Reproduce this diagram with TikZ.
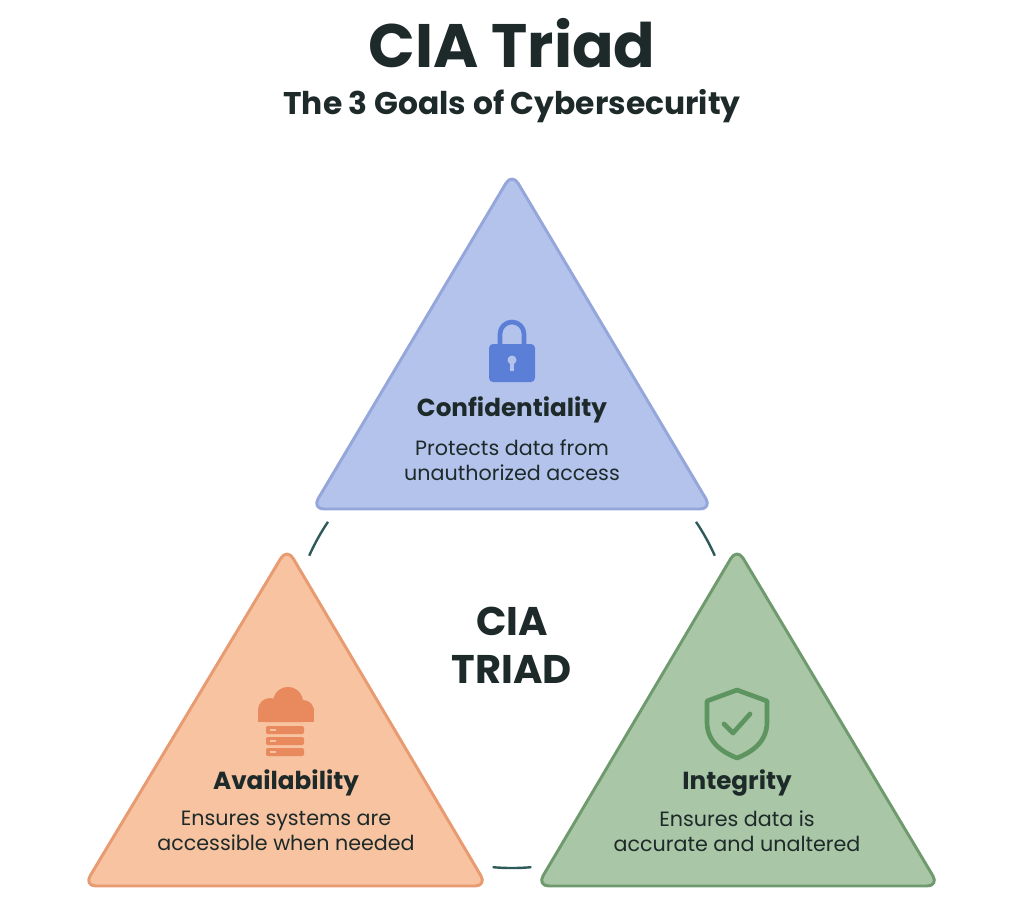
\documentclass[tikz,border=0pt]{standalone}
\usepackage{fontspec}
\setmainfont{Poppins}
\newfontfamily\bodyf{Poppins}
\definecolor{cfill}{HTML}{B4C3EC}\definecolor{cline}{HTML}{94A6DA}
\definecolor{afill}{HTML}{F7C3A0}\definecolor{aline}{HTML}{E89A70}
\definecolor{ifill}{HTML}{A9C6A6}\definecolor{iline}{HTML}{6F9A6E}
\definecolor{lockc}{HTML}{5B7FD6}\definecolor{cloudc}{HTML}{E8895E}\definecolor{shieldc}{HTML}{5E9460}
\definecolor{arcc}{HTML}{2F5A5A}\definecolor{txt}{HTML}{1E2A2A}
\tikzset{tri/.style={line width=2.2pt,rounded corners=9pt,line join=round},
 head/.style={font=\fontsize{18.5}{22}\selectfont\bfseries,text=txt},
 desc/.style={font=\bodyf\fontsize{15.5}{19}\selectfont,text=txt,align=center},
 arcl/.style={arcc,line width=1.8pt}}
\begin{document}
\begin{tikzpicture}[x=0.75pt,y=-0.75pt]
\fill[white] (0,0) rectangle (1024,908);
\useasboundingbox (0,0) rectangle (1024,908);
\node[font=\fontsize{46}{50}\selectfont\bfseries,text=txt] (title) at (512,43) {CIA Triad};
\node[font=\fontsize{23.5}{27}\selectfont\bfseries,text=txt] (sub) at (512,106) {The 3 Goals of Cybersecurity};
% triangles
\draw[tri,fill=cfill,draw=cline] (512,173) -- (712,509) -- (312,509) -- cycle;
\draw[tri,fill=afill,draw=aline] (287,548) -- (487,886) -- (84,886) -- cycle;
\draw[tri,fill=ifill,draw=iline] (737,548) -- (939,886) -- (537,886) -- cycle;
% arcs
\draw[arcl] (512,646) ++(-156:222) arc (-156:-146:222);
\draw[arcl] (512,646) ++(-24:222) arc (-24:-34:222);
\draw[arcl] (512,646) ++(85:222) arc (85:95:222);
% lock
\draw[lockc,line width=3.5pt] (500,346) -- (500,334) arc (180:360:12) -- (524,346);
\fill[lockc,rounded corners=3pt] (489,344) rectangle (535,382);
\fill[cfill] (512,360) circle (4.5);
\fill[cfill] (510,360) rectangle (514,371);
% cloud + server
\fill[cloudc] (258,722) rectangle (314,708);
\fill[cloudc] (270,710) circle (12);
\fill[cloudc] (288,702) circle (15);
\fill[cloudc] (303,711) circle (11);
\fill[cloudc,rounded corners=2pt] (263,715) rectangle (308,722);
\foreach \y in {726,737,748}{\fill[cloudc,rounded corners=1.5pt] (266,\y) rectangle (304,\y+8);
 \fill[afill] (270,\y+3) rectangle (276,\y+5);}
% shield
\draw[shieldc,line width=3.5pt,line join=round] (737,690) -- (767,701) -- (767,722) .. controls (767,742) and (752,752) .. (737,758) .. controls (722,752) and (707,742) .. (707,722) -- (707,701) -- cycle;
\draw[shieldc,line width=3.5pt,line cap=round,line join=round] (724,724) -- (733,733) -- (750,714);
% texts
\node[head] (c) at (512,410) {Confidentiality};
\node[desc] (cd) at (512,460) {Protects data from\\unauthorized access};
\node[head] (a) at (286,783) {Availability};
\node[desc] (ad) at (286,831) {Ensures systems are\\accessible when needed};
\node[head] (i) at (737,783) {Integrity};
\node[desc] (id) at (737,831) {Ensures data is\\accurate and unaltered};
\node[font=\fontsize{30}{36}\selectfont\bfseries,text=txt,align=center] (ct) at (512,645) {CIA\\TRIAD};
\end{tikzpicture}
\end{document}
